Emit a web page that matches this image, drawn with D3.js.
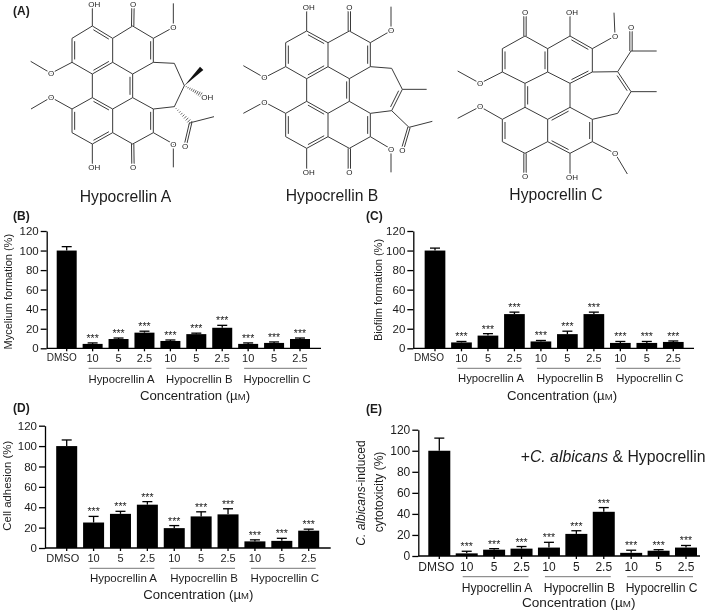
<!DOCTYPE html>
<html>
<head>
<meta charset="utf-8">
<script src="https://cdnjs.cloudflare.com/ajax/libs/d3/7.8.5/d3.min.js"></script>
<style>
  html, body { margin: 0; padding: 0; background: #fff; }
  svg { display: block; filter: blur(0.3px); }
  text { font-family: "Liberation Sans", Arial, sans-serif; fill: #1c1c1c; }
  .axis text { fill: #1c1c1c; }
  .axis line, .axis path { stroke: #000; stroke-width: 1.3; }
  .bond { stroke: #3a3a3a; stroke-width: 1; fill: none; }
</style>
</head>
<body>
<div id="chart"></div>
<script>
// bar chart data
const categories = ['DMSO', '10', '5', '2.5', '10', '5', '2.5', '10', '5', '2.5']
const groupNames = ['Hypocrellin A', 'Hypocrellin B', 'Hypocrellin C']
const yTicks = [0, 20, 40, 60, 80, 100, 120]

const myceliumValues = [100, 4.5, 9.5, 16, 7.5, 14.5, 21, 4.5, 5.5, 9.5]
const myceliumTops = [104, 5.5, 10.5, 17.5, 8.5, 15.5, 23.5, 5.5, 6.5, 10.5]
const biofilmValues = [100, 6, 13, 35, 7, 14.5, 35, 5.5, 5.5, 6.5]
const biofilmTops = [102.5, 7, 15, 37, 8, 17.5, 37, 7, 7, 7.5]
const adhesionValues = [100, 25, 33.5, 42.5, 19.5, 31, 33, 6.5, 7, 17]
const adhesionTops = [106, 31, 36, 45.5, 22, 35.5, 38.5, 8, 9.5, 18.5]
const cytotoxValues = [100, 2.5, 6, 7, 8, 21, 42, 3, 5, 8]
const cytotoxTops = [112, 4.5, 7, 9, 13, 24, 46, 5.5, 6, 10]

// structures, traced at 3x from the picture
const atomsA = {
  a1: [277, 78], a2: [216, 115], a3: [216, 187], a4: [277, 222], a5: [338, 187], a6: [338, 115],
  a7: [398, 78], a8: [460, 115], a9: [460, 187], a10: [398, 222], a11: [398, 293], a12: [338, 327],
  a13: [277, 293], a14: [338, 398], a15: [277, 432], a16: [216, 398], a17: [216, 327], a18: [460, 327],
  a19: [460, 398], a20: [398, 432], s1: [523, 190], s2: [553, 257], s3: [523, 320],
  oh1: [277, 14], o1: [399, 14], o2: [520, 82], m2: [520, 10], o3: [153, 220], m3: [92, 184],
  o4: [153, 292], m4: [93, 327], o5: [520, 432], m5: [520, 502], oh2: [277, 503], o6: [399, 503],
  ac: [572, 368], acm: [642, 350], aco: [555, 440], hoh: [603, 284], oh3: [622, 291]
}
const bondsA = [
  ['a1', 'a2'], ['a3', 'a4'], ['a5', 'a6'], ['a6', 'a7'], ['a7', 'a8'], ['a9', 'a10'], ['a10', 'a5'], ['a4', 'a13'],
  ['a11', 'a12'], ['a12', 'a14'], ['a14', 'a20'], ['a20', 'a19'], ['a18', 'a11'], ['a15', 'a16'], ['a17', 'a13'],
  ['a9', 's1'], ['s1', 's2'], ['s2', 's3'], ['s3', 'a18'],
  ['a1', 'oh1'], ['a8', 'o2'], ['o2', 'm2'], ['a3', 'o3'], ['o3', 'm3'], ['a17', 'o4'], ['o4', 'm4'],
  ['a19', 'o5'], ['o5', 'm5'], ['a15', 'oh2'], ['ac', 'acm'],
  ['a1', 'a6', 'a3'], ['a2', 'a3', 'a5'], ['a4', 'a5', 'a1'], ['a8', 'a9', 'a5'], ['a10', 'a11', 'a4'],
  ['a13', 'a12', 'a15'], ['a14', 'a15', 'a17'], ['a16', 'a17', 'a12'], ['a18', 'a19', 'a12'],
  ['a7', 'o1', null], ['a20', 'o6', null], ['ac', 'aco', null]
]
const labelsA = [['oh1', 'OH', 2], ['o1', 'O'], ['o2', 'O'], ['o3', 'O'], ['o4', 'O'], ['o5', 'O'], ['oh2', 'OH', 2], ['o6', 'O'], ['aco', 'O'], ['oh3', 'OH']]

const atomsB = {
  a1: [230, 93], a2: [167, 128], a3: [167, 200], a4: [230, 236], a5: [294, 200], a6: [294, 128],
  a7: [358, 93], a8: [421, 128], a9: [421, 200], a10: [358, 236], a11: [358, 304], a12: [294, 340],
  a13: [230, 304], a14: [294, 410], a15: [230, 445], a16: [167, 410], a17: [167, 340], a18: [421, 340],
  a19: [421, 410], a20: [358, 445], s1: [485, 205], s2: [517, 268], s3: [485, 332], sm: [590, 268],
  oh1: [230, 22], o1: [358, 22], o2: [483, 92], m2: [483, 20], o3: [103, 233], m3: [40, 197],
  o4: [103, 306], m4: [40, 340], o5: [483, 447], m5: [483, 517], oh2: [230, 516], o6: [358, 516],
  ac: [537, 382], acm: [607, 364], aco: [517, 450]
}
const bondsB = [
  ['a1', 'a2'], ['a3', 'a4'], ['a5', 'a6'], ['a6', 'a7'], ['a7', 'a8'], ['a9', 'a10'], ['a10', 'a5'], ['a4', 'a13'],
  ['a11', 'a12'], ['a12', 'a14'], ['a14', 'a20'], ['a20', 'a19'], ['a18', 'a11'], ['a15', 'a16'], ['a17', 'a13'],
  ['a9', 's1'], ['s1', 's2'], ['s3', 'a18'], ['s2', 'sm'], ['s3', 'ac'],
  ['a1', 'oh1'], ['a8', 'o2'], ['o2', 'm2'], ['a3', 'o3'], ['o3', 'm3'], ['a17', 'o4'], ['o4', 'm4'],
  ['a19', 'o5'], ['o5', 'm5'], ['a15', 'oh2'], ['ac', 'acm'],
  ['a1', 'a6', 'a3'], ['a2', 'a3', 'a5'], ['a4', 'a5', 'a1'], ['a8', 'a9', 'a5'], ['a10', 'a11', 'a4'],
  ['a13', 'a12', 'a15'], ['a14', 'a15', 'a17'], ['a16', 'a17', 'a12'], ['a18', 'a19', 'a12'], ['s2', 's3', 'a9'],
  ['a7', 'o1', null], ['a20', 'o6', null], ['ac', 'aco', null]
]
const labelsB = [['oh1', 'OH', 2], ['o1', 'O'], ['o2', 'O'], ['o3', 'O'], ['o4', 'O'], ['o5', 'O'], ['oh2', 'OH', 2], ['o6', 'O'], ['aco', 'O']]

const atomsC = {
  a1: [255, 108], a2: [187, 146], a3: [187, 216], a4: [255, 250], a5: [323, 216], a6: [323, 146],
  a7: [390, 108], a8: [457, 146], a9: [457, 216], a10: [390, 250], a11: [390, 322], a12: [323, 358],
  a13: [255, 322], a14: [323, 425], a15: [255, 460], a16: [187, 425], a17: [187, 358], a18: [457, 358],
  a19: [457, 425], a20: [390, 460], s1: [533, 215], s2: [573, 275], s3: [533, 340], sm: [650, 275],
  o1: [255, 37], oh1: [390, 38], o2: [525, 108], m2: [522, 38], o3: [120, 250], m3: [53, 213],
  o4: [120, 320], m4: [53, 355], o5: [525, 460], m5: [562, 522], oh2: [390, 532], o6: [255, 530],
  ac: [573, 153], acm: [650, 153], aco: [573, 82]
}
const bondsC = [
  ['a1', 'a2'], ['a3', 'a4'], ['a4', 'a5'], ['a1', 'a6'], ['a6', 'a7'], ['a8', 'a9'], ['a10', 'a5'],
  ['a10', 'a11'], ['a12', 'a14'], ['a19', 'a20'], ['a18', 'a11'], ['a14', 'a15'], ['a15', 'a16'], ['a17', 'a13'],
  ['a12', 'a13'], ['a9', 's1'], ['s2', 's3'], ['s3', 'a18'], ['s2', 'sm'], ['s1', 'ac'],
  ['a7', 'oh1'], ['a8', 'o2'], ['o2', 'm2'], ['a3', 'o3'], ['o3', 'm3'], ['a17', 'o4'], ['o4', 'm4'],
  ['a19', 'o5'], ['o5', 'm5'], ['a20', 'oh2'], ['ac', 'acm'],
  ['a2', 'a3', 'a5'], ['a5', 'a6', 'a2'], ['a7', 'a8', 'a5'], ['a9', 'a10', 'a6'], ['a4', 'a13', 'a5'],
  ['a11', 'a12', 'a20'], ['a14', 'a20', 'a18'], ['a16', 'a17', 'a12'], ['a18', 'a19', 'a12'], ['s1', 's2', 'a18'],
  ['a1', 'o1', null], ['a15', 'o6', null], ['ac', 'aco', null]
]
const labelsC = [['o1', 'O'], ['oh1', 'OH', 2], ['o2', 'O'], ['o3', 'O'], ['o4', 'O'], ['o5', 'O'], ['oh2', 'OH', 2], ['o6', 'O'], ['aco', 'O']]

const width = 709
const height = 610

let svg = d3.select('#chart')
  .append('svg')
  .attr('width', width)
  .attr('height', height)

function panelLetter(text, x, y) {
  svg.append('text')
    .attr('x', x)
    .attr('y', y)
    .attr('dy', '0.35em')
    .attr('font-size', 12)
    .attr('font-weight', 'bold')
    .text(text)
}

function drawMolecule(mol) {
  let g = svg.append('g')
  let x = d3.scaleLinear().domain([0, 3]).range([mol.left, mol.left + 1])
  let y = d3.scaleLinear().domain([0, 3]).range([0, 1])
  let atoms = mol.atoms
  let line = d3.line().x((d) => x(d[0])).y((d) => y(d[1]))

  let offsetLine = (p, q, nx, ny, dist, trim) => {
    let dx = q[0] - p[0]
    let dy = q[1] - p[1]
    return line([
      [p[0] + dx * trim + nx * dist, p[1] + dy * trim + ny * dist],
      [q[0] - dx * trim + nx * dist, q[1] - dy * trim + ny * dist]
    ])
  }

  mol.bonds.forEach((b) => {
    let p = atoms[b[0]]
    let q = atoms[b[1]]
    let len = Math.hypot(q[0] - p[0], q[1] - p[1])
    let nx = -(q[1] - p[1]) / len
    let ny = (q[0] - p[0]) / len
    if (b.length === 2) {
      g.append('path').attr('class', 'bond').attr('d', line([p, q]))
    } else if (b[2] === null) {
      // carbonyl, two lines either side
      g.append('path').attr('class', 'bond').attr('d', offsetLine(p, q, nx, ny, 3.5, 0))
      g.append('path').attr('class', 'bond').attr('d', offsetLine(p, q, nx, ny, -3.5, 0))
    } else {
      let t = atoms[b[2]]
      let side = (t[0] - p[0]) * nx + (t[1] - p[1]) * ny > 0 ? 1 : -1
      g.append('path').attr('class', 'bond').attr('d', line([p, q]))
      g.append('path').attr('class', 'bond').attr('d', offsetLine(p, q, nx, ny, 8 * side, 0.12))
    }
  })

  if (mol.wedge) {
    let p = atoms[mol.wedge[0]]
    let q = mol.wedge[1]
    let len = Math.hypot(q[0] - p[0], q[1] - p[1])
    let nx = -(q[1] - p[1]) / len * 7
    let ny = (q[0] - p[0]) / len * 7
    g.append('path')
      .attr('d', line([p, [q[0] + nx, q[1] + ny], [q[0] - nx, q[1] - ny]]) + 'Z')
      .attr('fill', '#111')
  }

  // hashed stereo bonds
  if (mol.hashes) {
    mol.hashes.forEach((h) => {
      let p = atoms[h[0]]
      let q = atoms[h[1]]
      let len = Math.hypot(q[0] - p[0], q[1] - p[1])
      let nx = -(q[1] - p[1]) / len
      let ny = (q[0] - p[0]) / len
      d3.range(0, 1.001, 1 / 9).forEach((t) => {
        let cx = p[0] + (q[0] - p[0]) * t
        let cy = p[1] + (q[1] - p[1]) * t
        let half = 1 + 6 * t
        g.append('path')
          .attr('d', line([[cx + nx * half, cy + ny * half], [cx - nx * half, cy - ny * half]]))
          .attr('stroke', '#3a3a3a')
          .attr('stroke-width', 0.8)
      })
    })
  }

  mol.labels.forEach((l) => {
    let p = atoms[l[0]]
    g.append('text')
      .attr('x', x(p[0]) + (l[2] || 0))
      .attr('y', y(p[1]))
      .attr('dy', '0.35em')
      .attr('text-anchor', 'middle')
      .attr('font-size', 8)
      .attr('stroke', '#fff')
      .attr('stroke-width', 3)
      .attr('paint-order', 'stroke')
      .text(l[1])
  })

  svg.append('text')
    .attr('x', mol.titleX)
    .attr('y', mol.titleY)
    .attr('dy', '0.35em')
    .attr('text-anchor', 'middle')
    .attr('font-size', 15.7)
    .text(mol.title)
}

function drawBars(p) {
  let g = svg.append('g')
  let ids = d3.range(categories.length)

  let x = d3.scaleBand()
    .domain(ids)
    .range([p.firstCenter - p.barWidth / 2, p.lastCenter + p.barWidth / 2])
    .paddingInner(1 - p.barWidth / ((p.lastCenter - p.firstCenter) / 9))
    .paddingOuter(0)

  let y = d3.scaleLinear()
    .domain([0, 120])
    .range([p.y0, p.y120])

  let center = (i) => x(i) + x.bandwidth() / 2

  g.selectAll('.bar')
    .data(p.values)
    .enter().append('rect')
    .attr('class', 'bar')
    .attr('x', (d, i) => x(i))
    .attr('y', (d) => y(d))
    .attr('width', x.bandwidth())
    .attr('height', (d) => y(0) - y(d))
    .attr('fill', '#000')

  let errors = g.selectAll('.err')
    .data(p.tops)
    .enter().append('g')
    .attr('class', 'err')
    .attr('stroke', '#000')
    .attr('stroke-width', 1.3)

  errors.append('line')
    .attr('x1', (d, i) => center(i))
    .attr('x2', (d, i) => center(i))
    .attr('y1', (d, i) => y(p.values[i]))
    .attr('y2', (d) => y(d))

  errors.append('line')
    .attr('x1', (d, i) => center(i) - 5)
    .attr('x2', (d, i) => center(i) + 5)
    .attr('y1', (d) => y(d))
    .attr('y2', (d) => y(d))

  // significance stars, DMSO has none
  g.selectAll('.stars')
    .data(p.tops.slice(1))
    .enter().append('text')
    .attr('class', 'stars')
    .attr('x', (d, i) => center(i + 1))
    .attr('y', (d) => y(d) - 1)
    .attr('text-anchor', 'middle')
    .attr('font-size', 10.5)
    .text('***')

  let yAxis = g.append('g')
    .attr('class', 'axis')
    .attr('transform', `translate(${p.axisX}, 0)`)
    .call(d3.axisLeft(y).tickValues(yTicks).tickSize(6).tickSizeOuter(0).tickPadding(2))
  yAxis.selectAll('text').attr('font-size', p.tickSize).style('font-family', 'inherit')

  let xAxis = g.append('g')
    .attr('class', 'axis')
    .attr('transform', `translate(0, ${p.y0})`)
    .call(d3.axisBottom(x).tickFormat((i) => categories[i]).tickSize(3).tickSizeOuter(0).tickPadding(p.xTickPad))
  xAxis.select('.domain').remove()
  xAxis.append('line')
    .attr('x1', p.axisX)
    .attr('x2', p.axisEnd)
  xAxis.selectAll('text').attr('font-size', p.xTickSize).style('font-family', 'inherit')
  xAxis.selectAll('.tick').filter((i) => i === 0).select('text')
    .attr('dx', p.dmsoShift)
    .attr('font-size', p.dmsoSize)

  groupNames.forEach((name, k) => {
    let first = 1 + k * 3
    g.append('line')
      .attr('x1', center(first) - 4)
      .attr('x2', center(first + 2) + 7)
      .attr('y1', p.groupLineY)
      .attr('y2', p.groupLineY)
      .attr('stroke', '#777')
      .attr('stroke-width', 1)
    g.append('text')
      .attr('x', center(first + 1) + 3)
      .attr('y', p.groupLabelY)
      .attr('dy', '0.35em')
      .attr('text-anchor', 'middle')
      .attr('font-size', p.groupSize)
      .text(name)
  })

  let conc = g.append('text')
    .attr('x', p.concX)
    .attr('y', p.concY)
    .attr('dy', '0.35em')
    .attr('text-anchor', 'middle')
    .attr('font-size', p.concSize)
    .text('Concentration (µ')
  conc.append('tspan').attr('font-size', p.concSize * 0.72).text('M')
  conc.append('tspan').text(')')

  p.yLabel.forEach((l) => {
    let t = g.append('text')
      .attr('transform', `translate(${l.x}, ${l.y}) rotate(-90)`)
      .attr('text-anchor', 'middle')
      .attr('dy', '0.35em')
      .attr('font-size', p.labelSize)
    l.parts.forEach((part) => {
      t.append('tspan').attr('font-style', part[1] ? 'italic' : 'normal').text(part[0])
    })
  })
}

panelLetter('(A)', 13, 11)
panelLetter('(B)', 13, 216)
panelLetter('(C)', 366, 216)
panelLetter('(D)', 13, 408)
panelLetter('(E)', 366, 409)

drawMolecule({
  left: 0, atoms: atomsA, bonds: bondsA, labels: labelsA,
  wedge: ['s2', [605, 205]],
  hashes: [['s2', 'hoh'], ['s3', 'ac']],
  title: 'Hypocrellin A', titleX: 125.5, titleY: 197
})
drawMolecule({
  left: 230, atoms: atomsB, bonds: bondsB, labels: labelsB,
  title: 'Hypocrellin B', titleX: 332, titleY: 196
})
drawMolecule({
  left: 440, atoms: atomsC, bonds: bondsC, labels: labelsC,
  title: 'Hypocrellin C', titleX: 556, titleY: 195
})

drawBars({
  values: myceliumValues, tops: myceliumTops,
  axisX: 46.7, axisEnd: 321, y0: 348.3, y120: 231,
  firstCenter: 66.7, lastCenter: 300, barWidth: 20,
  tickSize: 11.5, xTickSize: 11, dmsoSize: 10, dmsoShift: -5, xTickPad: 3,
  groupLineY: 368.3, groupLabelY: 379, groupSize: 11.3,
  concX: 195, concY: 395, concSize: 13.2, labelSize: 11,
  yLabel: [{ x: 8, y: 291.7, parts: [['Mycelium formation (%)']] }]
})
drawBars({
  values: biofilmValues, tops: biofilmTops,
  axisX: 413.3, axisEnd: 694, y0: 348.3, y120: 231,
  firstCenter: 435, lastCenter: 673.3, barWidth: 20.7,
  tickSize: 11.5, xTickSize: 11, dmsoSize: 10, dmsoShift: -6, xTickPad: 3,
  groupLineY: 368.3, groupLabelY: 378.3, groupSize: 11.3,
  concX: 562, concY: 395, concSize: 13.2, labelSize: 11,
  yLabel: [{ x: 378, y: 290, parts: [['Biofilm formation (%)']] }]
})
drawBars({
  values: adhesionValues, tops: adhesionTops,
  axisX: 45, axisEnd: 330.7, y0: 548, y120: 425.7,
  firstCenter: 66.7, lastCenter: 308.7, barWidth: 21,
  tickSize: 11.5, xTickSize: 11, dmsoSize: 11, dmsoShift: -4, xTickPad: 3,
  groupLineY: 568.3, groupLabelY: 578.3, groupSize: 11.5,
  concX: 198.3, concY: 594, concSize: 13.2, labelSize: 11.4,
  yLabel: [{ x: 6.5, y: 485.7, parts: [['Cell adhesion (%)']] }]
})
drawBars({
  values: cytotoxValues, tops: cytotoxTops,
  axisX: 418.3, axisEnd: 700, y0: 556, y120: 429.7,
  firstCenter: 439.3, lastCenter: 686, barWidth: 22,
  tickSize: 12, xTickSize: 12, dmsoSize: 12, dmsoShift: -3, xTickPad: 3,
  groupLineY: 576.7, groupLabelY: 587.3, groupSize: 12.1,
  concX: 578.7, concY: 602, concSize: 13.6, labelSize: 12,
  yLabel: [
    { x: 361, y: 493, parts: [['C. albicans', true], ['-induced']] },
    { x: 379, y: 492, parts: [['cytotoxicity (%)']] }
  ]
})

let note = svg.append('text')
  .attr('x', 520.7)
  .attr('y', 456.7)
  .attr('dy', '0.35em')
  .attr('font-size', 15.8)
note.append('tspan').text('+')
note.append('tspan').attr('font-style', 'italic').text('C. albicans')
note.append('tspan').text(' & Hypocrellin')
</script>
</body>
</html>
